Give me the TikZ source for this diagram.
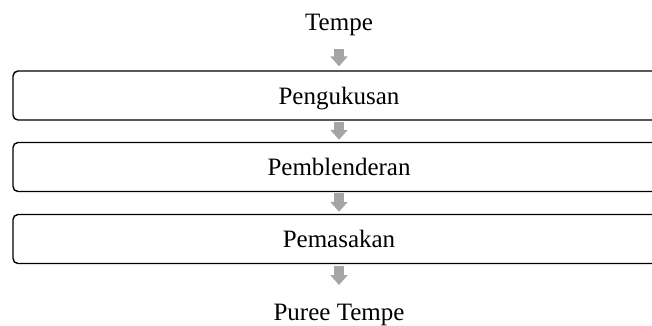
\documentclass[tikz,border=0pt]{standalone}
\usepackage{fontspec}
\setmainfont{Liberation Serif}
\usetikzlibrary{arrows.meta}
\definecolor{arrowgray}{RGB}{165,165,165}
\tikzset{
  x=1pt, y=1pt,
  lbl/.style={inner sep=0pt, anchor=base, font=\fontsize{25}{30}\selectfont},
  stepbox/.style={draw=black, line width=1.4pt, rounded corners=5pt,
    minimum width=652pt, minimum height=49pt, inner sep=0pt,
    text height=17pt, text depth=0pt, font=\fontsize{25}{30}\selectfont},
  flowarrow/.style={draw=arrowgray, line width=10pt,
    -{Triangle[width=17pt,length=10pt]}}
}
\begin{document}
\begin{tikzpicture}
\useasboundingbox (0,0) rectangle (652,-325);
\clip (0,0) rectangle (652,-325);
\node[lbl] (t) at (339,-30) {Tempe};
\node[stepbox] (b1) at (339,-95.5) {Pengukusan};
\node[stepbox] (b2) at (339,-167) {Pemblenderan};
\node[stepbox] (b3) at (339,-239) {Pemasakan};
\node[lbl] (p) at (339,-320) {Puree Tempe};
\draw[flowarrow] ([yshift=-19pt]t.base) -- ([yshift=4pt]b1.north);
\draw[flowarrow] ([yshift=-1pt]b1.south) -- ([yshift=2pt]b2.north);
\draw[flowarrow] ([yshift=-1pt]b2.south) -- ([yshift=2pt]b3.north);
\draw[flowarrow] ([yshift=-2pt]b3.south) -- ([yshift=35pt]p.base);
\end{tikzpicture}
\end{document}
